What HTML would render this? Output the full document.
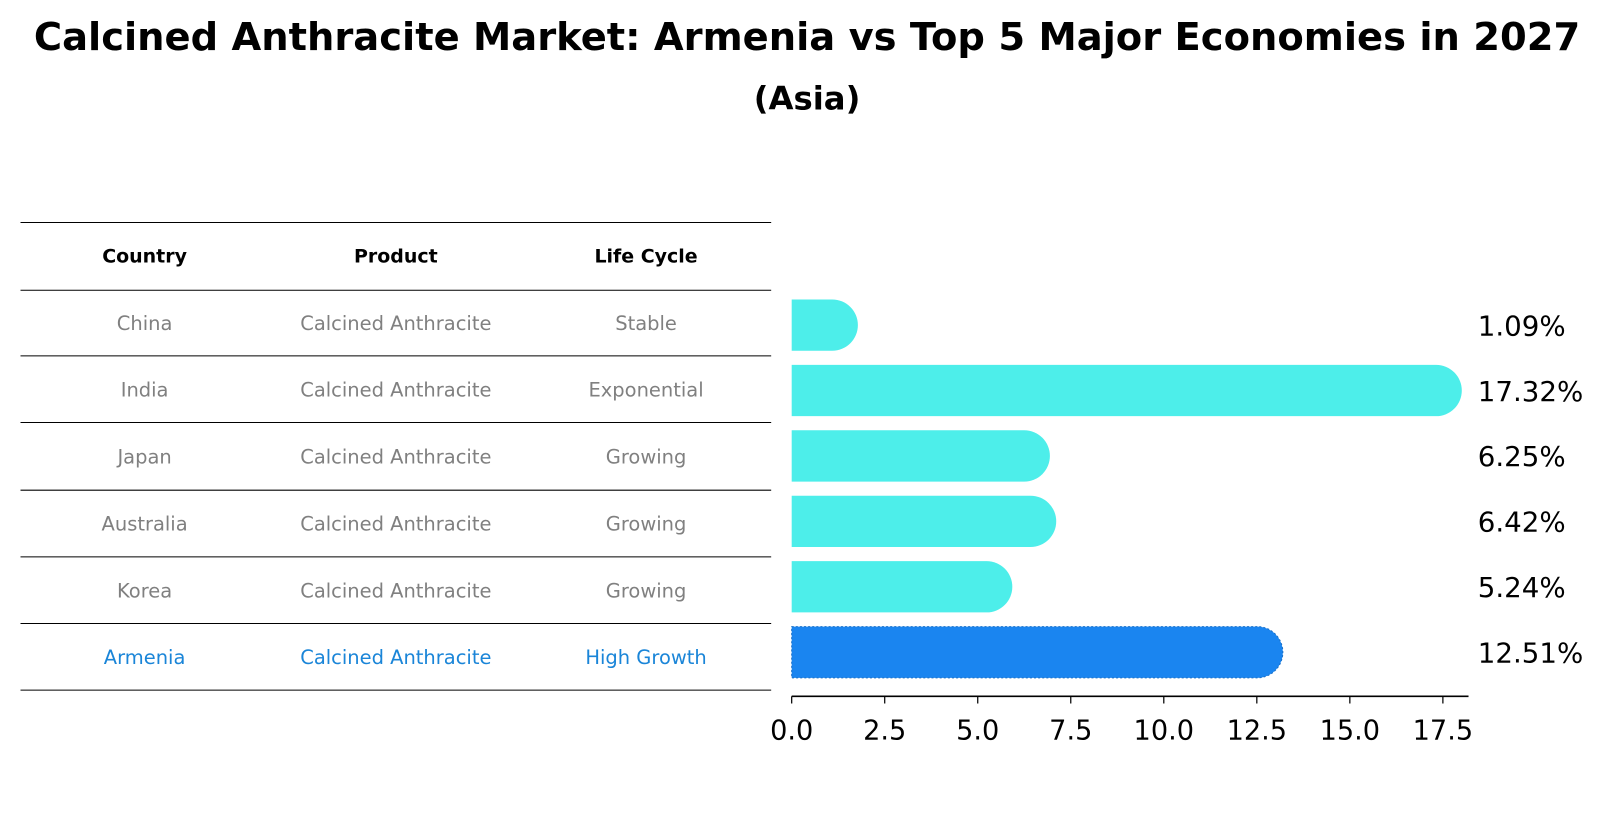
<!DOCTYPE html>
<html><head><meta charset="utf-8"><style>
body{margin:0;background:#fff;font-family:"DejaVu Sans","Liberation Sans",sans-serif;}
#wrap{position:relative;width:1608px;height:823px;overflow:hidden;}
</style></head><body>
<div id="wrap">
<svg id="svg" width="1608" height="823" xmlns="http://www.w3.org/2000/svg">
<g transform="scale(1.0255)">
<text x="787" y="49" text-anchor="middle" font-size="37.5" font-weight="bold">Calcined Anthracite Market: Armenia vs Top 5 Major Economies in 2027</text>
<text x="787" y="107" text-anchor="middle" font-size="31.5" font-weight="bold">(Asia)</text>
<g id="table"></g>
<g id="bars"></g>
</g>
</svg>
</div>
<script>
const countries=["China","India","Japan","Australia","Korea","Armenia"];
const products=["Calcined Anthracite","Calcined Anthracite","Calcined Anthracite","Calcined Anthracite","Calcined Anthracite","Calcined Anthracite"];
const lifecycles=["Stable","Exponential","Growing","Growing","Growing","High Growth"];
const values=[1.09,17.32,6.25,6.42,5.24,12.51];
const tickVals=[0,2.5,5,7.5,10,12.5,15,17.5];
const tickLabels=["0.0","2.5","5.0","7.5","10.0","12.5","15.0","17.5"];

const NS="http://www.w3.org/2000/svg";
function mk(tag,attrs,parent,text){const e=document.createElementNS(NS,tag);for(const k in attrs)e.setAttribute(k,attrs[k]);if(text!==undefined)e.textContent=text;parent.appendChild(e);return e;}
const x0=772, pxPerUnit=(1407-772)/17.5;
const xScale=v=>x0+v*pxPerUnit;
const rowY=i=>317+i*63.8;
const barH=50;

const tbl=document.getElementById('table');
const lineYs=[217,283,347,412,478,543,608,673];
lineYs.forEach((y,i)=>{const l=mk('line',{x1:20,x2:752,y1:y,y2:y,stroke:'#000','stroke-width':1},tbl);

});
const colX=[141,386,630];
["Country","Product","Life Cycle"].forEach((h,j)=>{const t=mk('text',{x:colX[j],y:256,'text-anchor':'middle','font-size':18.5,'font-weight':'bold'},tbl,h);

});
countries.forEach((c,i)=>{
  const y=(lineYs[i+1]+lineYs[i+2])/2+7;
  const col=c==="Armenia"?"#1a85d8":"#808080";
  [c,products[i],lifecycles[i]].forEach((v,j)=>{const t=mk('text',{x:colX[j],y:y,'text-anchor':'middle','font-size':19,fill:col},tbl,v);
  
  });
});

const bars=document.getElementById('bars');
values.forEach((v,i)=>{
  const cy=rowY(i), xe=xScale(v), r=barH/2;
  const col=countries[i]==="Armenia"?"#1a85f0":"#4deeea";
  const d=`M${x0},${cy-r} L${xe},${cy-r} A${r},${r} 0 0 1 ${xe},${cy+r} L${x0},${cy+r} Z`;
  const p=mk('path',{d:d,fill:col},bars);
  if(countries[i]==="Armenia"){p.setAttribute('stroke','#1a70c8');p.setAttribute('stroke-dasharray','2,2');p.setAttribute('stroke-width','1');}
  
  
  const t=mk('text',{x:1441,y:cy+10,'font-size':27},bars,v.toFixed(2)+'%');
  
  
});
const ax=mk('line',{x1:x0,x2:1432,y1:679,y2:679,stroke:'#000','stroke-width':1.5},bars);


tickVals.forEach((v,i)=>{
  const x=xScale(v);
  const tk=mk('line',{x1:x,x2:x,y1:679,y2:686,stroke:'#000','stroke-width':1.2},bars);
  
  
  const t=mk('text',{x:x,y:721,'text-anchor':'middle','font-size':26.5},bars,tickLabels[i]);
  
  
});
</script>
</body></html>
